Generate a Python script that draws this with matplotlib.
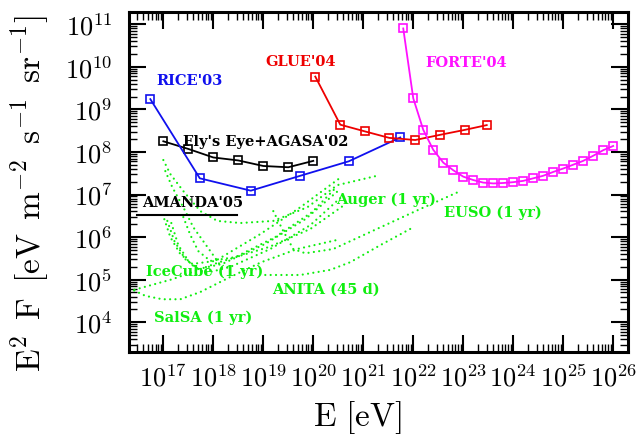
import numpy as np
import matplotlib
matplotlib.use("Agg")
import matplotlib.pyplot as plt
from matplotlib.ticker import LogLocator, FuncFormatter, NullFormatter

plt.rcParams['mathtext.fontset'] = 'cm'

# ---- data (log10 E [eV], log10 E^2 F) ----
rice_logE = [16.74, 17.73, 18.75, 19.74, 20.71, 21.74]
rice_logF = [9.24, 7.38, 7.09, 7.44, 7.78, 8.34]

fly_logE = [17.0, 17.5, 18.0, 18.5, 19.0, 19.5, 20.0]
fly_logF = [8.25, 8.07, 7.87, 7.80, 7.67, 7.64, 7.79]

glue_logE = [20.04, 20.54, 21.04, 21.52, 22.04, 22.53, 23.04, 23.47]
glue_logF = [9.77, 8.64, 8.48, 8.33, 8.28, 8.40, 8.52, 8.63]

forte_logE = [21.8, 22.0, 22.2, 22.4, 22.6, 22.8, 23.0, 23.2, 23.4, 23.6, 23.8,
              24.0, 24.2, 24.4, 24.6, 24.8, 25.0, 25.2, 25.4, 25.6, 25.8, 26.0]
forte_logF = [10.90, 9.26, 8.52, 8.05, 7.75, 7.57, 7.42, 7.34, 7.28, 7.26, 7.27,
              7.29, 7.32, 7.38, 7.44, 7.53, 7.61, 7.70, 7.79, 7.91, 8.04, 8.14]

amanda_logE = [16.47, 18.47]
amanda_logF = [6.52, 6.52]

# future sensitivities (green dotted)
auger_logE = [17.0, 17.14, 17.4, 17.74, 18.08, 18.54, 19.2, 19.88, 20.48, 21.24]
auger_logF = [7.81, 7.48, 7.08, 6.61, 6.38, 6.33, 6.38, 6.70, 7.22, 7.43]

steep_logE = [17.04, 17.18, 17.4, 17.6, 17.88, 18.08, 18.22]
steep_logF = [7.55, 7.17, 6.70, 6.23, 5.77, 5.44, 5.20]

icecube_logE = [
    [17.02, 17.14, 17.34, 17.58, 18.04, 18.94, 19.74, 20.5],
    [17.08, 17.22, 17.44, 17.7, 18.18, 19.04, 19.84, 20.54],
    [17.16, 17.3, 17.54, 17.84, 18.34, 19.14, 19.94, 20.58],
    [17.4, 17.54, 17.7, 17.94, 18.44, 19.24, 19.98, 20.46],
    [16.32, 17.18, 18.12, 19.12, 19.94, 20.64],
]
icecube_logF = [
    [6.42, 6.0, 5.60, 5.37, 5.44, 6.07, 6.70, 7.36],
    [6.38, 5.91, 5.48, 5.25, 5.37, 5.84, 6.42, 7.13],
    [6.33, 5.81, 5.37, 5.15, 5.30, 5.72, 6.28, 6.96],
    [6.47, 6.05, 5.67, 5.44, 5.53, 6.0, 6.59, 7.17],
    [4.73, 5.01, 5.41, 5.77, 6.19, 6.77],
]

salsa_logE = [16.32, 16.64, 16.98, 17.34, 17.74, 18.3, 18.96, 19.68, 20.54]
salsa_logF = [4.80, 4.62, 4.54, 4.54, 4.71, 5.04, 5.41, 5.72, 5.95]

anita_logE = [19.04, 19.74, 20.34, 20.74, 21.34, 22.0]
anita_logF = [5.11, 5.11, 5.23, 5.41, 5.81, 6.23]

euso_logE = [19.2, 19.4, 19.6, 19.84, 20.4, 21.4, 22.14, 22.94]
euso_logF = [6.61, 6.14, 5.72, 5.62, 5.72, 6.26, 6.66, 7.08]

# label names and their (log E, log F) centres
labels = ["RICE'03", "GLUE'04", "FORTE'04", "Fly's Eye+AGASA'02", "AMANDA'05",
          "Auger (1 yr)", "EUSO (1 yr)", "IceCube (1 yr)", "ANITA (45 d)", "SalSA (1 yr)"]
label_logE = [17.52, 19.74, 23.06, 19.04, 17.58, 21.46, 23.6, 17.82, 20.26, 17.8]
label_logF = [9.69, 10.13, 10.11, 8.25, 6.82, 6.89, 6.59, 5.20, 4.80, 4.12]

green = '#10ee10'
label_colors = ['#1010ee', '#ee0000', '#ff10ff', 'black', 'black',
                green, green, green, green, green]


def p(v):
    return 10.0 ** np.asarray(v)


fig = plt.figure(figsize=(6.41, 4.35), dpi=100)
ax = fig.add_axes([0.201, 0.188, 0.779, 0.781])

dot = (0, (0.01, 2.4))
gkw = dict(color=green, lw=1.6, ls=dot, dash_capstyle='round')
ax.plot(p(auger_logE), p(auger_logF), **gkw)
ax.plot(p(steep_logE), p(steep_logF), **gkw)
for le, lf in zip(icecube_logE, icecube_logF):
    ax.plot(p(le), p(lf), **gkw)
ax.plot(p(salsa_logE), p(salsa_logF), **gkw)
ax.plot(p(anita_logE), p(anita_logF), **gkw)
ax.plot(p(euso_logE), p(euso_logF), **gkw)

ax.plot(p(amanda_logE), p(amanda_logF), color='black', lw=1.5)

mkw = dict(marker='s', mfc='none', ms=6.2, mew=1.2, lw=1.3)
ax.plot(p(fly_logE), p(fly_logF), color='black', **mkw)
ax.plot(p(rice_logE), p(rice_logF), color='#1010ee', **mkw)
ax.plot(p(glue_logE), p(glue_logF), color='#ee0000', **mkw)
ax.plot(p(forte_logE), p(forte_logF), color='#ff10ff', **mkw)

for txt, le, lf, c in zip(labels, label_logE, label_logF, label_colors):
    ax.text(p(le), p(lf), txt, color=c, family='DejaVu Serif', weight='bold',
            fontsize=10.5, ha='center', va='center')

ax.set_xscale('log')
ax.set_yscale('log')
ax.set_xlim(p(16.31), p(26.3))
ax.set_ylim(p(3.296), p(11.275))

fmt = FuncFormatter(lambda v, pos: r'$\mathrm{10^{%d}}$' % int(round(np.log10(v))))
for a in (ax.xaxis, ax.yaxis):
    a.set_major_locator(LogLocator(base=10, numticks=30))
    a.set_minor_locator(LogLocator(base=10, subs=np.arange(2, 10), numticks=30))
    a.set_major_formatter(fmt)
    a.set_minor_formatter(NullFormatter())

ax.tick_params(which='both', direction='in', top=True, right=True, labelsize=19)
ax.tick_params(which='major', length=12, width=1.5)
ax.tick_params(which='minor', length=6, width=1.0)
ax.tick_params(axis='x', which='major', pad=9)
ax.tick_params(axis='y', which='major', pad=12)
for s in ax.spines.values():
    s.set_linewidth(2.2)

ax.set_xlabel(r'$\mathrm{E\ [eV]}$', fontsize=24)
ax.xaxis.set_label_coords(0.457, -0.135)
ax.set_ylabel(r'$\mathrm{E^2\ \,F\ \,[eV\ \,m^{-2}\ \,s^{-1}\ \,sr^{-1}]}$', fontsize=24)
ax.yaxis.set_label_coords(-0.155, 0.471)

fig.savefig('out.png', dpi=100)
